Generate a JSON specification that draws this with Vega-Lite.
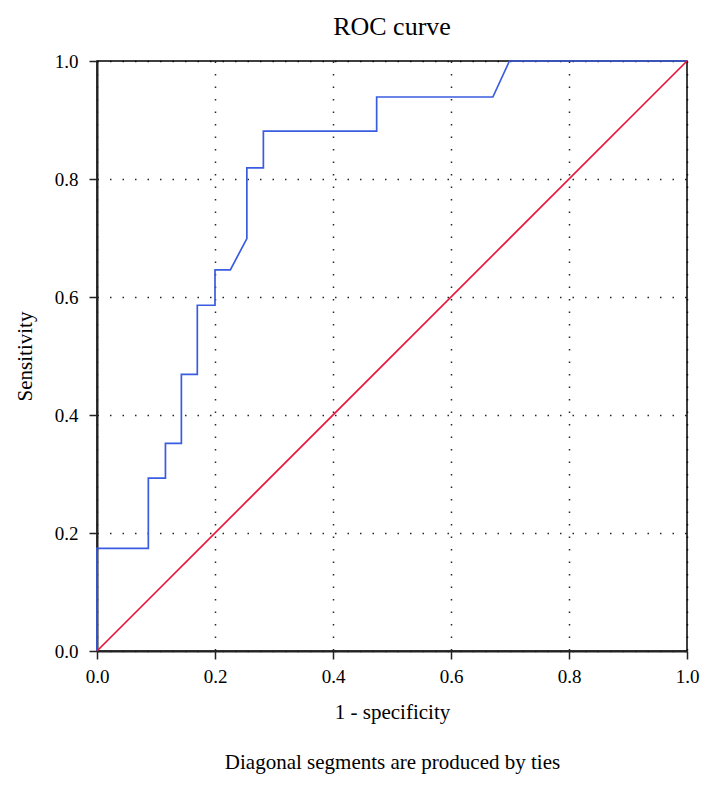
{
  "$schema": "https://vega.github.io/schema/vega-lite/v6.json",
  "width": 590,
  "height": 590,
  "autosize": "none",
  "padding": {"left": 97, "top": 61, "right": 13, "bottom": 136},
  "background": "white",
  "title": {
    "text": "ROC curve",
    "font": "Liberation Serif",
    "fontSize": 26,
    "fontWeight": "normal",
    "color": "black",
    "offset": 12
  },
  "config": {
    "view": {"stroke": "black", "strokeWidth": 1.5},
    "axis": {
      "labelFont": "Liberation Serif",
      "titleFont": "Liberation Serif",
      "labelFontSize": 19,
      "titleFontSize": 21,
      "titleFontWeight": "normal",
      "labelColor": "black",
      "titleColor": "black",
      "labelFlush": false,
      "domainColor": "#222222",
      "domainWidth": 2,
      "tickColor": "#222222",
      "tickWidth": 1.5,
      "tickSize": 8,
      "gridColor": "black",
      "gridDash": [1.5, 11],
      "gridWidth": 1.5,
      "gridOpacity": 0.85,
      "zindex": 0
    }
  },
  "datasets": {
    "curve": [
      {"order": 0, "fpr": 0.0, "tpr": 0.0},
      {"order": 1, "fpr": 0.0, "tpr": 0.174},
      {"order": 2, "fpr": 0.087, "tpr": 0.174},
      {"order": 3, "fpr": 0.087, "tpr": 0.293},
      {"order": 4, "fpr": 0.116, "tpr": 0.293},
      {"order": 5, "fpr": 0.116, "tpr": 0.352},
      {"order": 6, "fpr": 0.143, "tpr": 0.352},
      {"order": 7, "fpr": 0.143, "tpr": 0.469},
      {"order": 8, "fpr": 0.17, "tpr": 0.469},
      {"order": 9, "fpr": 0.17, "tpr": 0.586},
      {"order": 10, "fpr": 0.2, "tpr": 0.586},
      {"order": 11, "fpr": 0.2, "tpr": 0.646},
      {"order": 12, "fpr": 0.226, "tpr": 0.646},
      {"order": 13, "fpr": 0.254, "tpr": 0.699},
      {"order": 14, "fpr": 0.254, "tpr": 0.819},
      {"order": 15, "fpr": 0.282, "tpr": 0.819},
      {"order": 16, "fpr": 0.282, "tpr": 0.881},
      {"order": 17, "fpr": 0.474, "tpr": 0.881},
      {"order": 18, "fpr": 0.474, "tpr": 0.939},
      {"order": 19, "fpr": 0.671, "tpr": 0.939},
      {"order": 20, "fpr": 0.699, "tpr": 1.0},
      {"order": 21, "fpr": 1.0, "tpr": 1.0}
    ],
    "diag": [
      {"fpr": 0.0, "tpr": 0.0},
      {"fpr": 1.0, "tpr": 1.0}
    ]
  },
  "layer": [
    {
      "data": {"name": "curve"},
      "mark": {"type": "line", "color": "#3a5ce0", "strokeWidth": 1.7},
      "encoding": {
        "x": {
          "field": "fpr",
          "type": "quantitative",
          "scale": {"domain": [0, 1], "nice": false, "zero": false},
          "axis": {
            "values": [0, 0.2, 0.4, 0.6, 0.8, 1.0],
            "format": ".1f",
            "labelPadding": 8,
            "title": ["1 - specificity", "Diagonal segments are produced by ties"],
            "titleLineHeight": 50,
            "titlePadding": 15,
            "grid": true
          }
        },
        "y": {
          "field": "tpr",
          "type": "quantitative",
          "scale": {"domain": [0, 1], "nice": false, "zero": false},
          "axis": {
            "values": [0, 0.2, 0.4, 0.6, 0.8, 1.0],
            "format": ".1f",
            "labelPadding": 11,
            "title": "Sensitivity",
            "titlePadding": 19,
            "grid": true
          }
        },
        "order": {"field": "order", "type": "quantitative"}
      }
    },
    {
      "data": {"name": "diag"},
      "mark": {"type": "line", "color": "#e8183c", "strokeWidth": 1.7},
      "encoding": {
        "x": {"field": "fpr", "type": "quantitative"},
        "y": {"field": "tpr", "type": "quantitative"}
      }
    }
  ]
}
